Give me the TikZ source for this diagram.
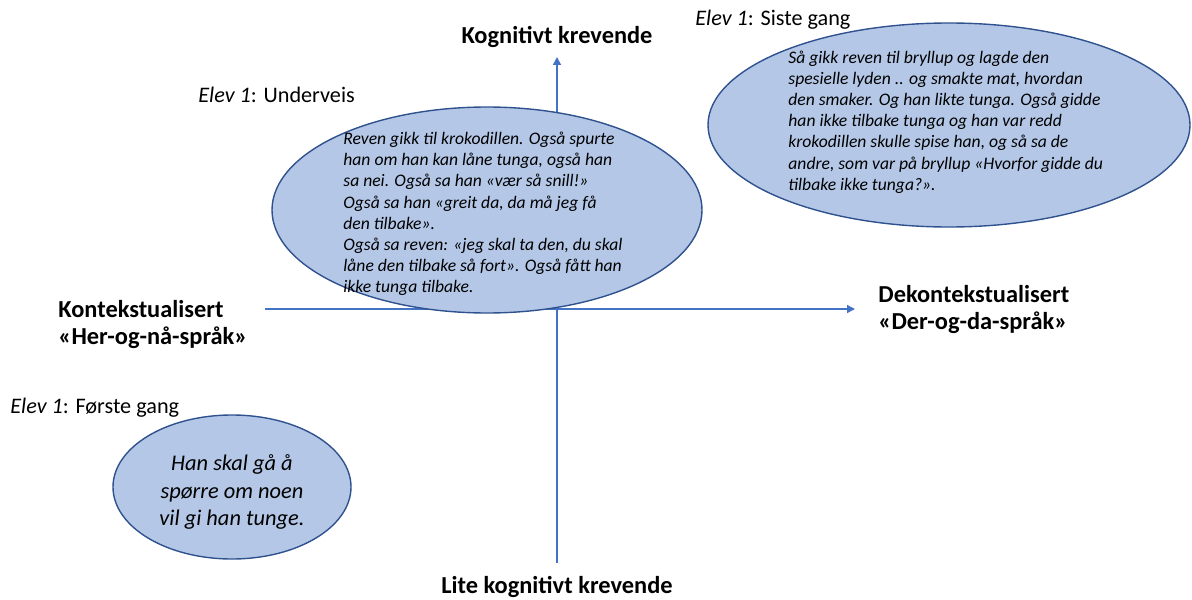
\documentclass[tikz,border=0pt]{standalone}
\usepackage{fontspec}
\setmainfont{Carlito}
\usetikzlibrary{arrows.meta,positioning,shapes.geometric}
\definecolor{akseblaa}{HTML}{4472C4}
\definecolor{fyllblaa}{HTML}{B4C7E7}
\definecolor{kantblaa}{HTML}{2F528F}

\begin{document}
\begin{tikzpicture}[x=0.5pt, y=-0.5pt,
        akse/.style={-{Triangle[length=4pt, width=4pt]}, line width=0.7pt, akseblaa},
        boble/.style={draw=kantblaa, fill=fyllblaa, ellipse, line width=0.7pt, inner sep=0pt},
        sitat/.style={align=left, anchor=west, font=\itshape\fontsize{8.8}{10.6}\selectfont, inner sep=0pt},
        pol/.style={font=\bfseries\fontsize{12.2}{13.5}\selectfont, align=left, inner sep=0pt},
        elev/.style={font=\fontsize{11.1}{13}\selectfont, anchor=west, inner sep=0pt}
    ]
        \useasboundingbox (0,0) rectangle (1192,599);
        % akser
        \coordinate (ned) at (557,563);
        \coordinate (opp) at (557,57);
        \coordinate (venstre) at (265,309);
        \coordinate (hoyre) at (855,309);
        \draw[akse] (ned) -- (opp);
        \draw[akse] (venstre) -- (hoyre);
        % poler
        \node (kog) [pol] at (557,37) {Kognitivt krevende};
        \node (lite) [pol] at (557,587) {Lite kognitivt krevende};
        \node (kont) [pol, anchor=west] at (58,325) {Kontekstualisert\\«Her-og-nå-språk»};
        \node (dekont) [pol, anchor=west] at (878,310) {Dekontekstualisert\\«Der-og-da-språk»};
        % ellipser
        \node (under) [boble, minimum width=215pt, minimum height=103pt] at (487,210) {};
        \node (siste) [boble, minimum width=241pt, minimum height=102pt] at (949,125) {};
        \node (forste) [boble, minimum width=119pt, minimum height=72pt] at (232,487) {};
        % elevtekster
        \node (undertekst) [sitat] at (343,214) {Reven gikk til krokodillen. Også spurte\\
            han om han kan låne tunga, også han\\
            sa nei. Også sa han «vær så snill!»\\
            Også sa han «greit da, da må jeg få\\
            den tilbake».\\
            Også sa reven: «jeg skal ta den, du skal\\
            låne den tilbake så fort». Også fått han\\
            ikke tunga tilbake.};
        \node (sistetekst) [sitat] at (788,122) {Så gikk reven til bryllup og lagde den\\
            spesielle lyden .. og smakte mat, hvordan\\
            den smaker. Og han likte tunga. Også gidde\\
            han ikke tilbake tunga og han var redd\\
            krokodillen skulle spise han, og så sa de\\
            andre, som var på bryllup «Hvorfor gidde du\\
            tilbake ikke tunga?».};
        \node (forstetekst) [sitat, anchor=center, align=center, font=\itshape\fontsize{11.2}{13.6}\selectfont] at (232,492) {Han skal gå å\\
            spørre om noen\\
            vil gi han tunge.};
        % etiketter
        \node (e2) [elev] at (198,95) {\textit{Elev 1}: Underveis};
        \node (e3) [elev] at (695,20) {\textit{Elev 1}: Siste gang};
        \node (e1) [elev] at (10,408) {\textit{Elev 1}: Første gang};
\end{tikzpicture}
\end{document}
